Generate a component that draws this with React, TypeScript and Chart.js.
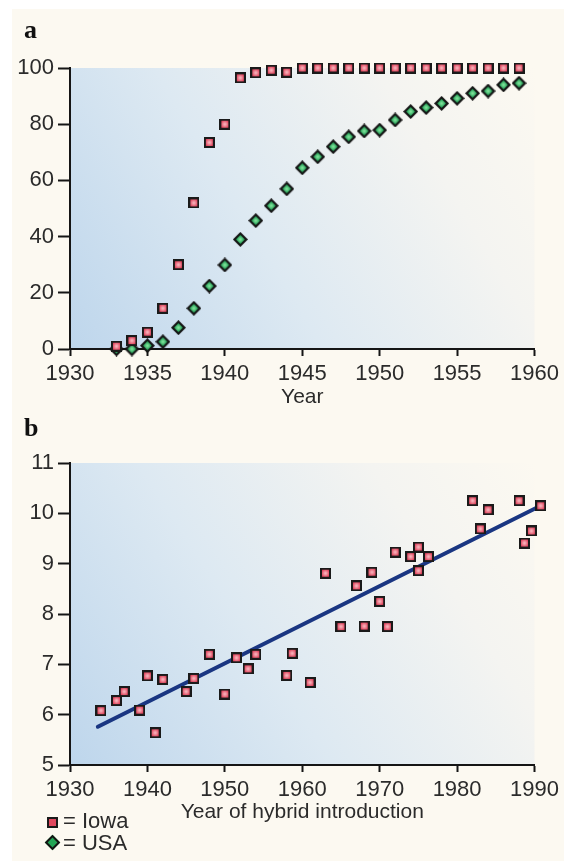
import React, { useEffect, useRef } from "react";
import { Chart, registerables } from "chart.js";
Chart.register(...registerables);

// ---------- Panel a data ----------
const yearsA = [1933, 1934, 1935, 1936, 1937, 1938, 1939, 1940, 1941, 1942, 1943, 1944, 1945, 1946, 1947, 1948, 1949, 1950, 1951, 1952, 1953, 1954, 1955, 1956, 1957, 1958, 1959];
const iowaA = [1, 3, 6, 14.5, 30, 52, 73.5, 80, 96.5, 98.3, 99.2, 98.5, 100, 100, 100, 100, 100, 100, 100, 100, 100, 100, 100, 100, 100, 100, 100];
const usaA = [0, 0, 1.2, 2.6, 7.6, 14.5, 22.4, 29.9, 39, 45.7, 51, 57, 64.5, 68.4, 72, 75.5, 77.6, 77.9, 81.5, 84.5, 85.9, 87.4, 89.2, 91, 91.8, 94, 94.6];
const xTicksA = [1930, 1935, 1940, 1945, 1950, 1955, 1960];
const yTicksA = [0, 20, 40, 60, 80, 100];

// ---------- Panel b data ----------
const yearsB = [1934, 1936, 1937, 1939, 1940, 1941, 1942, 1945, 1946, 1948, 1950, 1951.5, 1953, 1954, 1958, 1958.7, 1961, 1963, 1965, 1967, 1968, 1969, 1970, 1971, 1972, 1974, 1975, 1975, 1976.3, 1982, 1983, 1984, 1988, 1988.7, 1989.6, 1990.8];
const yieldB = [6.08, 6.28, 6.46, 6.09, 6.77, 5.64, 6.7, 6.46, 6.72, 7.2, 6.41, 7.13, 6.91, 7.2, 6.78, 7.22, 6.64, 8.81, 7.75, 8.56, 7.76, 8.83, 8.25, 7.75, 9.23, 9.14, 9.33, 8.86, 9.14, 10.25, 9.69, 10.07, 10.25, 9.41, 9.65, 10.15];
const fitYears = [1933.6, 1990.4];
const fitYield = [5.76, 10.12];
const xTicksB = [1930, 1940, 1950, 1960, 1970, 1980, 1990];
const yTicksB = [5, 6, 7, 8, 9, 10, 11];

const FONT = "'Liberation Sans', Arial, Helvetica, sans-serif";
const TEXT = "#2b2b2b";
const AXIS = "#151515";

function makeSquare(): HTMLCanvasElement {
  const c = document.createElement("canvas");
  c.width = 11; c.height = 11;
  const ctx = c.getContext("2d")!;
  ctx.fillStyle = "#1a1a1a";
  ctx.fillRect(0, 0, 11, 11);
  const g = ctx.createRadialGradient(5.5, 5.5, 0.5, 5.5, 5.5, 4.5);
  g.addColorStop(0, "#f8b4bc");
  g.addColorStop(1, "#dc3550");
  ctx.fillStyle = g;
  ctx.fillRect(2, 2, 7, 7);
  return c;
}

function makeDiamond(): HTMLCanvasElement {
  const c = document.createElement("canvas");
  c.width = 15; c.height = 15;
  const ctx = c.getContext("2d")!;
  const d = (r: number) => {
    ctx.beginPath();
    ctx.moveTo(7.5, 7.5 - r);
    ctx.lineTo(7.5 + r, 7.5);
    ctx.lineTo(7.5, 7.5 + r);
    ctx.lineTo(7.5 - r, 7.5);
    ctx.closePath();
  };
  ctx.fillStyle = "#141414";
  d(7.5);
  ctx.fill();
  const g = ctx.createRadialGradient(7.5, 7.5, 0.5, 7.5, 7.5, 4.5);
  g.addColorStop(0, "#7fe39a");
  g.addColorStop(1, "#12924a");
  ctx.fillStyle = g;
  d(4.4);
  ctx.fill();
  return c;
}

const bgPlugin = {
  id: "plotBg",
  beforeDraw(chart: any) {
    const { ctx, chartArea: a } = chart;
    const g = ctx.createLinearGradient(a.left, a.bottom, a.right, a.top);
    g.addColorStop(0, "#bed6ec");
    g.addColorStop(0.4, "#dde9f2");
    g.addColorStop(0.75, "#f4f4f1");
    g.addColorStop(1, "#fcf9f1");
    ctx.save();
    ctx.fillStyle = g;
    ctx.fillRect(a.left, a.top, a.right - a.left, a.bottom - a.top);
    ctx.restore();
  },
};

function axisX(min: number, max: number, ticks: number[], height: number, title: string, titlePadBottom: number) {
  return {
    type: "linear",
    min,
    max,
    afterBuildTicks: (s: any) => { s.ticks = ticks.map((v) => ({ value: v })); },
    afterFit: (s: any) => { s.height = height; },
    grid: { drawOnChartArea: false, drawTicks: true, tickLength: 7, tickWidth: 2, tickColor: AXIS },
    border: { display: true, color: AXIS, width: 2 },
    ticks: { font: { family: FONT, size: 22 }, color: TEXT, padding: 5, maxRotation: 0, autoSkip: false, callback: (v: any) => String(v) },
    title: { display: true, text: title, font: { family: FONT, size: 21 }, color: TEXT, padding: { top: 0, bottom: titlePadBottom } },
  };
}

function axisY(min: number, max: number, ticks: number[]) {
  return {
    type: "linear",
    min,
    max,
    afterBuildTicks: (s: any) => { s.ticks = ticks.map((v) => ({ value: v })); },
    afterFit: (s: any) => { s.width = 70; },
    grid: { drawOnChartArea: false, drawTicks: true, tickLength: 12, tickWidth: 2, tickColor: AXIS },
    border: { display: true, color: AXIS, width: 2 },
    ticks: { font: { family: FONT, size: 22 }, color: TEXT, padding: 4, autoSkip: false, callback: (v: any) => String(v) },
  };
}

export default function App() {
  const refA = useRef<HTMLCanvasElement>(null);
  const refB = useRef<HTMLCanvasElement>(null);

  useEffect(() => {
    const sq = makeSquare();
    const dm = makeDiamond();
    const common = {
      animation: false,
      responsive: false,
      maintainAspectRatio: false,
      devicePixelRatio: 1,
      events: [],
      plugins: { legend: { display: false }, tooltip: { enabled: false } },
    };
    const chartA = new Chart(refA.current!, {
      type: "scatter",
      data: {
        datasets: [
          { label: "Iowa", data: yearsA.map((x, i) => ({ x, y: iowaA[i] })), pointStyle: sq as any, pointRadius: 6, clip: false } as any,
          { label: "USA", data: yearsA.map((x, i) => ({ x, y: usaA[i] })), pointStyle: dm as any, pointRadius: 7, clip: false } as any,
        ],
      },
      options: {
        ...common,
        layout: { padding: { top: 68, right: 28, left: 0, bottom: 0 } },
        scales: {
          x: axisX(1930, 1960, xTicksA, 71, "Year", 10),
          y: axisY(0, 100, yTicksA),
        },
      } as any,
      plugins: [bgPlugin],
    });
    const chartB = new Chart(refB.current!, {
      type: "scatter",
      data: {
        datasets: [
          { label: "Iowa", data: yearsB.map((x, i) => ({ x, y: yieldB[i] })), pointStyle: sq as any, pointRadius: 6, clip: false } as any,
          {
            label: "fit",
            data: fitYears.map((x, i) => ({ x, y: fitYield[i] })),
            showLine: true,
            borderColor: "#1a3682",
            borderWidth: 4,
            pointRadius: 0,
            borderCapStyle: "round",
            clip: false,
          } as any,
        ],
      },
      options: {
        ...common,
        layout: { padding: { top: 43, right: 28, left: 0, bottom: 0 } },
        scales: {
          x: axisX(1930, 1990, xTicksB, 96, "Year of hybrid introduction", 36),
          y: axisY(5, 11, yTicksB),
        },
      } as any,
      plugins: [bgPlugin],
    });
    return () => {
      chartA.destroy();
      chartB.destroy();
    };
  }, []);

  const panelLabel = (t: string, top: number) => (
    <div style={{ position: "absolute", left: 24, top, font: "bold 26px 'Liberation Serif', serif", lineHeight: 1, color: "#111" }}>{t}</div>
  );

  return (
    <div style={{ position: "absolute", left: 0, top: 0, width: 564, height: 861, background: "#ffffff", overflow: "hidden" }}>
      <div style={{ position: "absolute", left: 12, top: 9, right: 0, bottom: 0, background: "#fcf9f1" }} />
      <canvas ref={refA} width={564} height={420} style={{ position: "absolute", left: 0, top: 0 }} />
      <canvas ref={refB} width={564} height={441} style={{ position: "absolute", left: 0, top: 420 }} />
      {panelLabel("a", 17)}
      {panelLabel("b", 415)}
      <div style={{ position: "absolute", left: 46.5, top: 816.5, width: 7, height: 7, border: "2px solid #1a1a1a", background: "#e0485e" }} />
      <div style={{ position: "absolute", left: 46.5, top: 836.5, width: 7, height: 7, border: "2px solid #141414", background: "#22a655", transform: "rotate(45deg)" }} />
      <div style={{ position: "absolute", left: 63, top: 810, font: `22px ${FONT}`, lineHeight: "22px", color: TEXT, whiteSpace: "nowrap" }}>= Iowa</div>
      <div style={{ position: "absolute", left: 63, top: 832, font: `22px ${FONT}`, lineHeight: "22px", color: TEXT, whiteSpace: "nowrap" }}>= USA</div>
    </div>
  );
}
